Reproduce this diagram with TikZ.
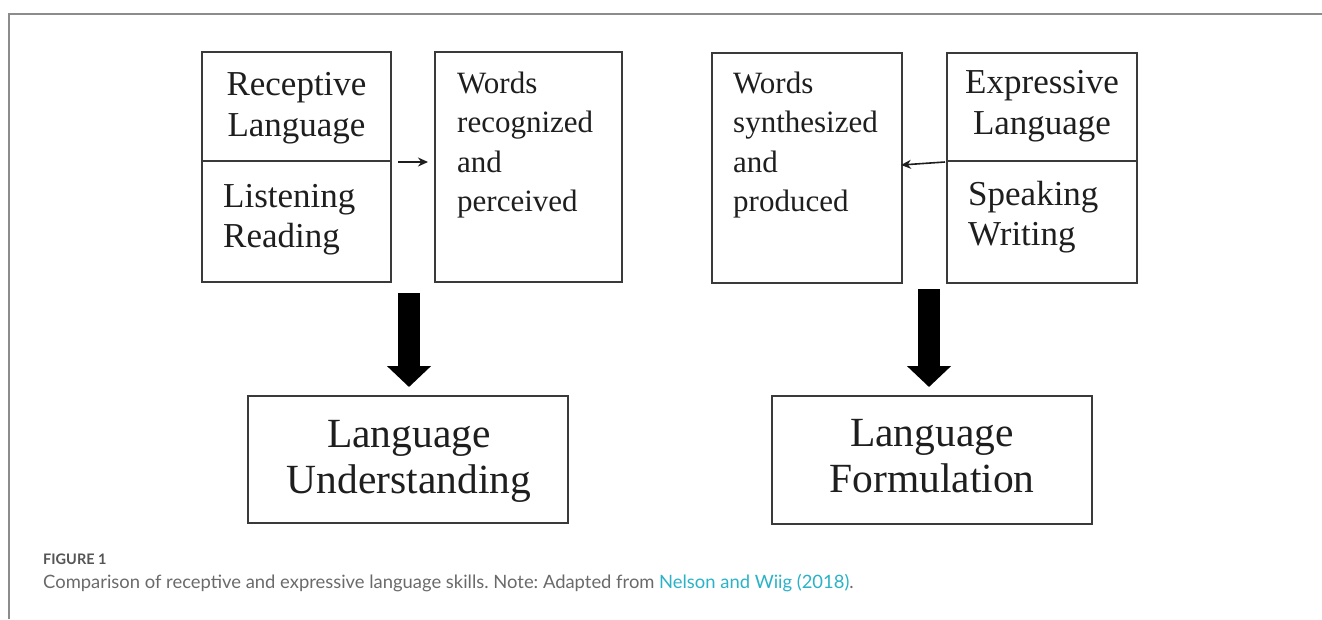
\documentclass[tikz,border=0pt]{standalone}
\usepackage{fontspec}
\setmainfont{Liberation Serif}
\newfontfamily\capfont{Lato}
\usetikzlibrary{arrows.meta}
\frenchspacing
\definecolor{boxline}{HTML}{3A3A3A}
\definecolor{ink}{HTML}{1E1E1E}
\definecolor{rulegray}{HTML}{8C8C8C}
\definecolor{capgray}{HTML}{6A6A6A}
\definecolor{capdark}{HTML}{555555}
\definecolor{linkteal}{HTML}{2AB2C6}
\tikzset{
  box/.style={draw=boxline, line width=2pt, inner sep=0pt, fill=none},
  txt/.style={inner sep=0pt, text=ink, text width=#1},
  smalltxt/.style={txt=180pt, anchor=base west, align=left,
    font=\fontsize{31}{39.6}\selectfont},
  headtxt/.style={txt=189pt, anchor=base, align=center,
    font=\fontsize{35}{41}\selectfont},
  listtxt/.style={txt=180pt, anchor=base west, align=left,
    font=\fontsize{35}{40}\selectfont},
  bigtxt/.style={txt=320pt, anchor=base, align=center,
    font=\fontsize{41.5}{46.5}\selectfont},
  thinarrow/.style={draw=ink, line width=1.6pt, -{Stealth[length=10pt,width=9pt]}},
  bigarrow/.style={draw=black, line width=22pt, -{Triangle[length=21pt,width=43pt]}},
  framerule/.style={draw=rulegray, line width=1.5pt},
}
\begin{document}
\begin{tikzpicture}[x=1pt,y=-1pt]
\useasboundingbox (0,0) rectangle (1322,619);

% page frame
\draw[framerule] (9,619) -- (9,14) -- (1322,14);

% receptive side
\node[box, minimum width=189pt, minimum height=109pt] (rectop) at (296.5,106.5) {};
\node[box, minimum width=189pt, minimum height=121pt] (recbot) at (296.5,221.5) {};
\node[box, minimum width=187pt, minimum height=230pt] (wordsR) at (528.5,167) {};
\node[headtxt] (tRec) at (296.5,95) {Receptive\\Language};
\node[listtxt] (tListen) at (223,207) {Listening\\Reading};
\node[smalltxt] (tWR) at (457,93) {Words\\recognized\\and\\perceived};

% expressive side
\node[box, minimum width=190pt, minimum height=230pt] (wordsE) at (807,168) {};
\node[box, minimum width=190pt, minimum height=108pt] (exptop) at (1042,107) {};
\node[box, minimum width=190pt, minimum height=122pt] (expbot) at (1042,222) {};
\node[smalltxt] (tWE) at (733,93) {Words\\synthesized\\and\\produced};
\node[headtxt, txt=190pt] (tExp) at (1042,93) {Expressive\\Language};
\node[listtxt] (tSpeak) at (968,205) {Speaking\\Writing};

% outcome boxes
\node[box, minimum width=320pt, minimum height=127pt] (underst) at (408,459.5) {};
\node[box, minimum width=320pt, minimum height=128pt] (formul) at (932,460) {};
\node[bigtxt] (tUnd) at (409,447) {Language\\Understanding};
\node[bigtxt] (tForm) at (932,446) {Language\\Formulation};

% connectors
\draw[thinarrow] ([xshift=6pt]rectop.south east) -- ([xshift=-6pt]wordsR.west |- rectop.south east);
\draw[thinarrow] ([xshift=-1pt]exptop.south west) -- ([xshift=-2pt,yshift=-3pt]wordsE.east |- exptop.south west);
\draw[bigarrow] ([xshift=1pt,yshift=-10pt]underst.north |- recbot.south) -- ([xshift=1pt,yshift=8pt]underst.north);
\draw[bigarrow] ([xshift=-3pt,yshift=-5pt]formul.north |- expbot.south) -- ([xshift=-3pt,yshift=8pt]formul.north);

% caption
\node[anchor=base west, inner sep=0pt, text=capdark, font=\capfont\bfseries\fontsize{14.5}{16}\selectfont] (figlabel) at (43,564) {FIGURE 1};
\node[anchor=base west, inner sep=0pt, text=capgray, font=\capfont\fontsize{18.4}{21}\selectfont] (figcaption) at (43,588)
  {Comparison of receptive and expressive language skills. Note: Adapted from \textcolor{linkteal}{Nelson and Wiig (2018)}.};
\end{tikzpicture}
\end{document}
